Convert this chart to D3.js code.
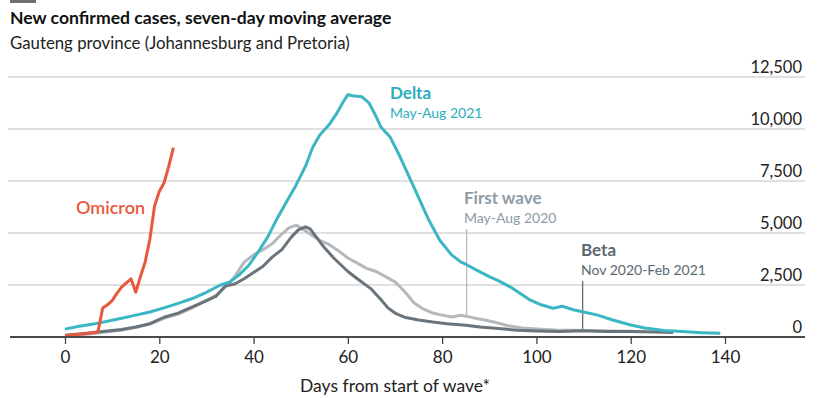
<!DOCTYPE html>
<html>
<head>
<meta charset="utf-8">
<script src="https://cdn.jsdelivr.net/npm/d3@7"></script>
<style>
  body { margin: 0; background: #fff; }
  svg { font-family: Lato, "Open Sans", sans-serif; }
</style>
</head>
<body>
<svg id="chart"></svg>
<script>
// ticks
let xTicks = [0, 20, 40, 60, 80, 100, 120, 140];
let yTicks = [0, 2500, 5000, 7500, 10000, 12500];

// Omicron
let omicronDays  = [0, 2, 4, 6, 7, 8, 9, 10, 11, 12, 13, 14, 15, 16, 17, 18, 19, 20, 21, 22, 23];
let omicronCases = [60, 110, 150, 200, 260, 1400, 1550, 1750, 2100, 2400, 2600, 2800, 2150, 2900, 3600, 4700, 6300, 7000, 7400, 8200, 9100];

// Delta, May-Aug 2021
let deltaDays  = [0, 3, 6, 9, 12, 15, 18, 21, 24, 27, 30, 33, 35, 37, 39, 41, 43, 45, 47, 49, 51, 52.5, 54, 56, 57.5, 59, 60, 61, 63, 64.5, 66, 67, 69, 71, 74, 77, 79.5, 82, 84, 85, 87, 90, 92, 94.5, 96.5, 98.5, 101, 103.5, 105.5, 108, 110, 113, 116, 120, 123, 127, 131, 135, 139];
let deltaCases = [380, 520, 620, 760, 900, 1050, 1200, 1400, 1620, 1850, 2150, 2500, 2650, 3000, 3450, 4100, 4800, 5700, 6500, 7300, 8200, 9100, 9700, 10200, 10700, 11300, 11650, 11600, 11550, 11250, 10600, 10100, 9600, 8700, 7200, 5700, 4650, 3950, 3600, 3500, 3250, 2900, 2700, 2400, 2100, 1800, 1550, 1380, 1480, 1300, 1200, 1050, 830, 580, 430, 310, 260, 210, 180];

// First wave, May-Aug 2020
let firstDays  = [0, 3, 6, 9, 12, 15, 18, 21, 24, 27, 30, 32, 34, 36, 38, 40, 42, 44, 46, 47.5, 49, 50, 52, 54, 56, 58, 60, 62, 64, 66, 68, 70, 72, 74, 76, 78, 80, 82, 84, 85.5, 87, 89, 91, 94, 97, 100, 104, 108, 112, 116, 120, 123];
let firstCases = [40, 100, 170, 250, 330, 450, 620, 900, 1100, 1400, 1750, 2000, 2400, 2900, 3600, 3950, 4200, 4500, 4950, 5250, 5380, 5250, 4950, 4650, 4450, 4150, 3800, 3550, 3300, 3150, 2900, 2650, 2200, 1650, 1350, 1150, 1050, 960, 1050, 980, 900, 820, 720, 540, 430, 390, 340, 320, 300, 290, 280, 260];

// Beta, Nov 2020-Feb 2021
let betaDays  = [0, 3, 6, 9, 12, 15, 18, 21, 24, 27, 30, 32, 34, 36, 38, 40, 42, 44, 46, 48, 49.5, 51, 52, 53, 55, 57, 60, 62, 65, 67, 68.5, 70, 72, 75, 78, 81, 85, 88, 92, 96, 100, 105, 110, 115, 120, 125, 129];
let betaCases = [80, 150, 220, 290, 360, 480, 640, 950, 1150, 1450, 1750, 1950, 2450, 2550, 2800, 3100, 3400, 3850, 4200, 4800, 5150, 5300, 5200, 4900, 4300, 3800, 3150, 2800, 2300, 1800, 1400, 1150, 950, 820, 720, 640, 560, 480, 410, 320, 290, 260, 300, 270, 260, 240, 220];

let width = 820, height = 398;
let margin = {top: 77, right: 95, bottom: 61, left: 65};

let svg = d3.select('#chart').attr('width', width).attr('height', height);

let xScale = d3.scaleLinear().domain([0, 140]).range([margin.left, 725]);
let yScale = d3.scaleLinear().domain([0, 12500]).range([height - margin.bottom, margin.top]);

// little tag top left
svg.append('rect').attr('x', 10).attr('y', 0).attr('width', 26).attr('height', 3).style('fill', '#707070');

// title
svg.append('text').attr('x', 10).attr('y', 24).text('New confirmed cases, seven-day moving average')
    .style('font-size', '17.6px').style('font-weight', 'bold').style('fill', '#111');
svg.append('text').attr('x', 10).attr('y', 49).text('Gauteng province (Johannesburg and Pretoria)')
    .style('font-size', '16.8px').style('fill', '#222');

// gridlines
svg.append('g').selectAll('line').data(yTicks.filter(d => d > 0)).enter().append('line')
    .attr('x1', 8).attr('x2', 805)
    .attr('y1', d => yScale(d)).attr('y2', d => yScale(d))
    .style('stroke', '#d6d6d6').style('stroke-width', '1.5px');

// right axis labels
svg.append('g').selectAll('text').data(yTicks).enter().append('text')
    .attr('x', 802).attr('y', d => yScale(d) - 4)
    .attr('text-anchor', 'end')
    .text(d => d3.format(',')(d))
    .style('font-size', '16.5px').style('fill', '#222');

// x axis
let xAxis = svg.append('g').attr('transform', 'translate(0,' + yScale(0) + ')')
    .call(d3.axisBottom(xScale).tickValues(xTicks).tickSize(7).tickPadding(7));
xAxis.select('.domain').remove();
xAxis.selectAll('.tick line').style('stroke', '#444').style('stroke-width', '1.3px');
xAxis.selectAll('.tick text').style('font-size', '17px').style('font-family', 'Lato, sans-serif').style('fill', '#222');

svg.append('text').attr('x', 395).attr('y', 392).attr('text-anchor', 'middle')
    .text('Days from start of wave*').style('font-size', '17.5px').style('fill', '#222');

// annotation lines
let markers = [
    {day: 85.2, from: 940, top: 229, color: '#b6bbbe'},
    {day: 109.8, from: 300, top: 281, color: '#5f6a71'}
];
svg.append('g').selectAll('line').data(markers).enter().append('line')
    .attr('x1', d => xScale(d.day)).attr('x2', d => xScale(d.day))
    .attr('y1', d => d.top).attr('y2', d => yScale(d.from))
    .style('stroke', d => d.color).style('stroke-width', '1.3px');

// series
let series = [
    {name: 'first', days: firstDays, cases: firstCases, color: '#b5b9bc'},
    {name: 'beta', days: betaDays, cases: betaCases, color: '#6a747b'},
    {name: 'delta', days: deltaDays, cases: deltaCases, color: '#3bb6c5'},
    {name: 'omicron', days: omicronDays, cases: omicronCases, color: '#e8583d'}
];

let line = d3.line().x(d => xScale(d[0])).y(d => yScale(d[1]));

svg.append('g').selectAll('path').data(series).enter().append('path')
    .attr('d', s => line(s.days.map((d, i) => [d, s.cases[i]])))
    .style('fill', 'none')
    .style('stroke', s => s.color)
    .style('stroke-width', '3px')
    .style('stroke-linejoin', 'round');

// baseline
svg.append('line').attr('x1', 10).attr('x2', 805).attr('y1', yScale(0)).attr('y2', yScale(0))
    .style('stroke', '#4a4a4a').style('stroke-width', '1.8px');

// labels
let labels = [
    {text: 'Delta', x: 390, y: 99, size: 17, weight: 'bold', color: '#2aaec0'},
    {text: 'May-Aug 2021', x: 390, y: 118, size: 14, weight: 'normal', color: '#2aaec0'},
    {text: 'First wave', x: 464, y: 204, size: 17, weight: 'bold', color: '#8d9ca4'},
    {text: 'May-Aug 2020', x: 464, y: 223, size: 14, weight: 'normal', color: '#8d9ca4'},
    {text: 'Beta', x: 581, y: 256, size: 17, weight: 'bold', color: '#5a6870'},
    {text: 'Nov 2020-Feb 2021', x: 581, y: 275, size: 14, weight: 'normal', color: '#5a6870'},
    {text: 'Omicron', x: 76, y: 214, size: 18, weight: '600', color: '#e8583d'}
];
svg.append('g').selectAll('text').data(labels).enter().append('text')
    .attr('x', d => d.x).attr('y', d => d.y)
    .text(d => d.text)
    .style('font-size', d => d.size + 'px')
    .style('font-weight', d => d.weight)
    .style('fill', d => d.color);
</script>
</body>
</html>
